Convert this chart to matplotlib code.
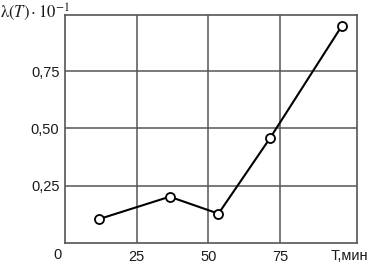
import matplotlib
matplotlib.use("Agg")
import matplotlib.pyplot as plt
import matplotlib.transforms as mtransforms

# failure rate vs time
t_min = [12, 36.5, 53.5, 71.5, 96.5]
lam = [0.105, 0.202, 0.128, 0.458, 0.947]

x_ticks = [25, 50, 75]
x_labels = ["25", "50", "75"]
y_ticks = [0.25, 0.5, 0.75]
y_labels = ["0,25", "0,50", "0,75"]

plt.rcParams["font.family"] = ["Liberation Sans", "DejaVu Sans"]
plt.rcParams["mathtext.fontset"] = "stix"

fig = plt.figure(figsize=(3.68, 2.64), dpi=100)
ax = fig.add_axes([65 / 368, 21 / 264, 292 / 368, 228 / 264])

grid_c = "#555555"
txt_c = "#1a1a1a"
ax.plot(t_min, lam, color="black", lw=1.5, marker="o", ms=6.5,
        mfc="white", mec="black", mew=1.3, zorder=3)

ax.set_xlim(0, 101.8)
ax.set_ylim(0, 0.995)
ax.set_xticks(x_ticks)
ax.set_xticklabels(x_labels)
ax.set_yticks(y_ticks)
ax.set_yticklabels(y_labels)
ax.tick_params(length=0, labelsize=10.5, colors=txt_c)
ax.tick_params(axis="y", pad=4)
ax.tick_params(axis="x", pad=5)
ax.grid(True, color=grid_c, lw=1.1)
for s in ax.spines.values():
    s.set_color(grid_c)
    s.set_linewidth(1.2)

# zero label and axis name under the x axis
trans = mtransforms.blended_transform_factory(ax.transData, ax.transAxes)
ax.text(-2.5, -0.052, "0", transform=trans, ha="center", va="center",
        fontsize=10.5, color=txt_c)
ax.text(99, -0.058, "T,мин", transform=trans, ha="center", va="center",
        fontsize=10.5, color=txt_c)

fig.text(0.0, 1 - 12 / 264, r"$\mathrm{\lambda}(T)\cdot10^{-1}$", ha="left",
         va="center", fontsize=12, color=txt_c)

fig.savefig("out.png", dpi=100)
